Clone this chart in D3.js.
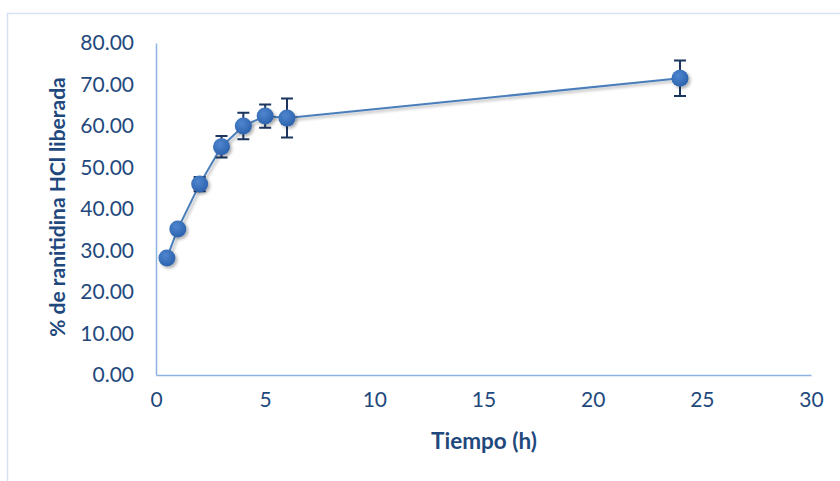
<html>
<head>
<meta charset="utf-8">
<script src="https://cdnjs.cloudflare.com/ajax/libs/d3/7.8.5/d3.min.js"></script>
<style>
body { margin: 0; background: #fff; }
text { font-family: Lato, "Open Sans", sans-serif; fill: #1f497d; }
</style>
</head>
<body>
<script>
// tiempo (h), % liberado y desviacion
var tiempo = [0.5, 1, 2, 3, 4, 5, 6, 24]
var liberado = [28.2, 35.2, 46.0, 55.0, 60.0, 62.4, 61.9, 71.5]
var desv = [0.8, 0.9, 1.7, 2.6, 3.2, 2.8, 4.7, 4.3]
var xTicks = [0, 5, 10, 15, 20, 25, 30]
var yTicks = [0, 10, 20, 30, 40, 50, 60, 70, 80]

var w = 840, h = 481

var x = d3.scaleLinear().domain([0, 30]).range([156, 811])
var y = d3.scaleLinear().domain([0, 80]).range([375, 43])

var svg = d3.select("body").append("svg")
    .attr("width", w)
    .attr("height", h)

var defs = svg.append("defs")
var sh = defs.append("filter").attr("id", "sh")
    .attr("x", "-50%").attr("y", "-50%").attr("width", "200%").attr("height", "200%")
sh.append("feDropShadow").attr("dx", 2).attr("dy", 2).attr("stdDeviation", 1.8)
    .attr("flood-color", "#000").attr("flood-opacity", 0.3)
var grad = defs.append("radialGradient").attr("id", "dot")
    .attr("cx", "40%").attr("cy", "35%").attr("r", "65%")
grad.append("stop").attr("offset", "0%").attr("stop-color", "#4f86cf")
grad.append("stop").attr("offset", "100%").attr("stop-color", "#2d62ad")

// outer chart frame
svg.append("path")
    .attr("d", "M7.5," + h + "V13.5H" + w)
    .attr("fill", "none")
    .attr("stroke", "#d6e1f1")
    .attr("stroke-width", 1.5)

// axes
var yAxis = d3.axisLeft(y).tickValues(yTicks).tickSize(0).tickPadding(22)
    .tickFormat(d3.format(".2f"))
var xAxis = d3.axisBottom(x).tickValues(xTicks).tickSize(0).tickPadding(22)

var gy = svg.append("g").attr("transform", "translate(156,0)").call(yAxis)
var gx = svg.append("g").attr("transform", "translate(0,375)").call(xAxis)
;[gx, gy].forEach(function (g) {
  g.select(".domain").attr("stroke", "#8db3e2").attr("stroke-width", 1.5)
  g.selectAll("text").attr("font-size", 21).attr("font-family", null).attr("fill", "#1f497d")
})
gx.selectAll("text").attr("dy", "0.35em").attr("y", 25)

svg.append("text")
    .attr("x", 484).attr("y", 449)
    .attr("text-anchor", "middle")
    .attr("font-weight", "bold")
    .attr("font-size", 22.5)
    .text("Tiempo (h)")

svg.append("text")
    .attr("transform", "translate(65,207) rotate(-90)")
    .attr("text-anchor", "middle")
    .attr("font-weight", "bold")
    .attr("font-size", 21)
    .text("% de ranitidina HCl liberada")

var data = tiempo.map(function (t, i) { return { t: t, v: liberado[i], e: desv[i] } })

var line = d3.line().x(function (d) { return x(d.t) }).y(function (d) { return y(d.v) })

svg.append("path")
    .datum(data)
    .attr("d", line)
    .attr("fill", "none")
    .attr("stroke", "#4a7ebb")
    .attr("stroke-width", 2)
    .attr("filter", "url(#sh)")

// error bars
var eb = svg.append("g").attr("stroke", "#1c355e").attr("stroke-width", 2).attr("fill", "none")
data.forEach(function (d) {
  var cx = x(d.t), y1 = y(d.v + d.e), y2 = y(d.v - d.e)
  eb.append("path").attr("d", "M" + cx + "," + y1 + "V" + y2 +
    "M" + (cx - 6) + "," + y1 + "H" + (cx + 6) +
    "M" + (cx - 6) + "," + y2 + "H" + (cx + 6))
})

svg.append("g").selectAll("circle")
    .data(data)
    .join("circle")
    .attr("cx", function (d) { return x(d.t) })
    .attr("cy", function (d) { return y(d.v) })
    .attr("r", 8.5)
    .attr("fill", "url(#dot)")
    .attr("filter", "url(#sh)")
</script>
</body>
</html>
